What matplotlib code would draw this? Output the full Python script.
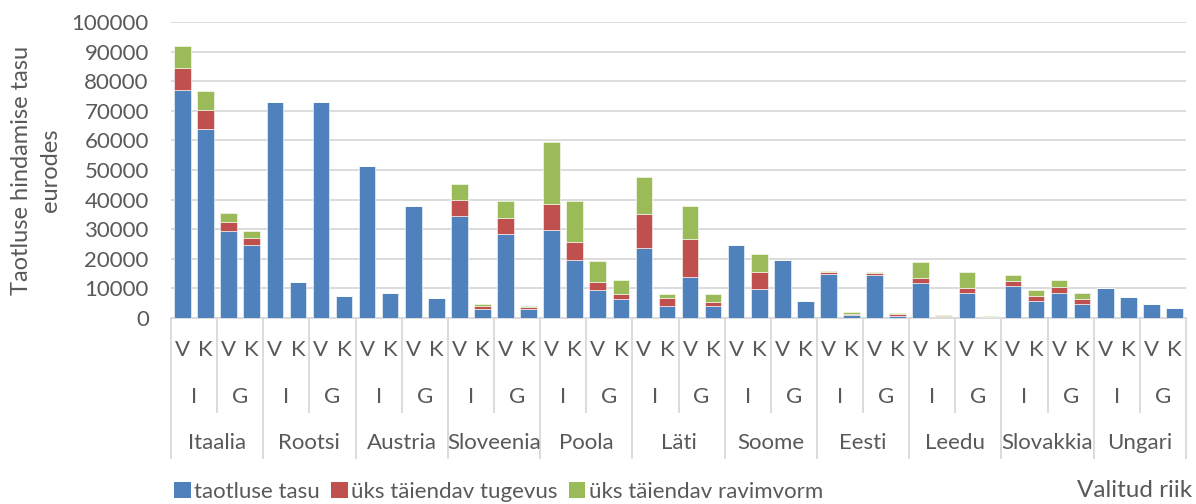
import matplotlib
matplotlib.use("Agg")
import matplotlib.pyplot as plt
from matplotlib.patches import Patch
from matplotlib.lines import Line2D
import numpy as np

plt.rcParams["font.family"] = ["Lato", "DejaVu Sans"]

countries = ["Itaalia", "Rootsi", "Austria", "Sloveenia", "Poola", "Läti",
             "Soome", "Eesti", "Leedu", "Slovakkia", "Ungari"]
procedures = ["I", "G"]
steps = ["V", "K"]

# one value per bar: country -> I/G -> V/K
base_fee = [77000, 64000, 29500, 24500, 73000, 12000, 73000, 7500,
            51500, 8600, 38000, 6800, 34500, 3200, 28500, 2900,
            29600, 19600, 9300, 6300, 23800, 3900, 13900, 3900,
            24600, 9700, 19600, 5700, 15000, 1100, 14600, 800,
            11700, 400, 8300, 250, 10700, 5600, 8600, 4800,
            10000, 7000, 4800, 3500]
extra_strength = [7500, 6200, 3000, 2500, 0, 0, 0, 0,
                  0, 0, 0, 0, 5300, 900, 5300, 700,
                  8900, 6000, 2900, 1800, 11300, 2900, 12700, 1500,
                  0, 5900, 0, 0, 600, 400, 500, 400,
                  1900, 300, 1900, 250, 1900, 1900, 1900, 1700,
                  0, 0, 0, 0]
extra_form = [7500, 6500, 3000, 2500, 0, 0, 0, 0,
              0, 0, 0, 0, 5500, 600, 5600, 500,
              21000, 13900, 7000, 4700, 12700, 1400, 11200, 2800,
              0, 6100, 0, 0, 400, 500, 600, 500,
              5200, 300, 5300, 300, 2000, 2100, 2200, 2100,
              0, 0, 0, 0]
series_names = ["taotluse tasu", "üks täiendav tugevus", "üks täiendav ravimvorm"]
colors = ["#4F81BD", "#C0504D", "#9BBB59"]

text_c = "#595959"
grid_c = "#D9D9D9"
fs = 16

fig = plt.figure(figsize=(11.96, 5.04), dpi=100)
ax = fig.add_axes([171 / 1196, 1 - 318 / 504, (1186 - 171) / 1196, 296 / 504])

x = np.arange(len(base_fee))
bottom = np.zeros(len(x))
for vals, col in zip([base_fee, extra_strength, extra_form], colors):
    vals = np.array(vals, dtype=float)
    ax.bar(x, vals, width=0.72, bottom=bottom, color=col,
           edgecolor="white", linewidth=0.4, zorder=3)
    bottom += vals

ax.set_xlim(-0.5, len(x) - 0.5)
ax.set_ylim(0, 100000)
ax.set_yticks(np.arange(0, 100001, 10000))
ax.yaxis.set_major_formatter(matplotlib.ticker.FuncFormatter(lambda v, p: f"{int(v)}"))
ax.tick_params(axis="y", length=0, labelsize=fs, labelcolor=text_c, pad=16)
ax.set_xticks([])
ax.grid(axis="y", color=grid_c, linewidth=1.3, zorder=0)
for s in ["top", "right", "left"]:
    ax.spines[s].set_visible(False)
ax.spines["bottom"].set_color(grid_c)
ax.spines["bottom"].set_linewidth(1.3)

# multi-level category axis
tr = ax.get_xaxis_transform()
y_step, y_proc, y_country = -0.108, -0.267, -0.422
y_short, y_long = -0.318, -0.473
for i in x:
    ax.text(i, y_step, steps[i % 2], transform=tr, ha="center", va="center",
            fontsize=fs, color=text_c)
for j in range(len(countries) * 2):
    ax.text(2 * j + 0.5, y_proc, procedures[j % 2], transform=tr, ha="center",
            va="center", fontsize=fs, color=text_c)
for k, name in enumerate(countries):
    ax.text(4 * k + 1.5, y_country, name, transform=tr, ha="center",
            va="center", fontsize=fs, color=text_c)
for j in range(len(countries) * 2 + 1):
    xb = 2 * j - 0.5
    yb = y_long if j % 2 == 0 else y_short
    ax.add_line(Line2D([xb, xb], [0, yb], transform=tr, color=grid_c,
                       linewidth=1.3, clip_on=False))

fig.text(22 / 1196, 1 - 170 / 504, "Taotluse hindamise tasu", rotation=90,
         ha="center", va="center", fontsize=fs + 1, color=text_c)
fig.text(50 / 1196, 1 - 170 / 504, "eurodes", rotation=90,
         ha="center", va="center", fontsize=fs + 1, color=text_c)
fig.text(1192 / 1196, 1 - 497 / 504, "Valitud riik", ha="right", va="baseline",
         fontsize=17.5, color=text_c)

handles = [Patch(facecolor=c, edgecolor="none") for c in colors]
fig.legend(handles, series_names, loc="center left",
           bbox_to_anchor=(163 / 1196, 1 - 492 / 504), ncol=3, frameon=False,
           fontsize=fs, labelcolor=text_c, handlelength=0.75, handleheight=0.75,
           handletextpad=0.15, columnspacing=0.5, borderpad=0)

fig.savefig("out.png", dpi=100)
